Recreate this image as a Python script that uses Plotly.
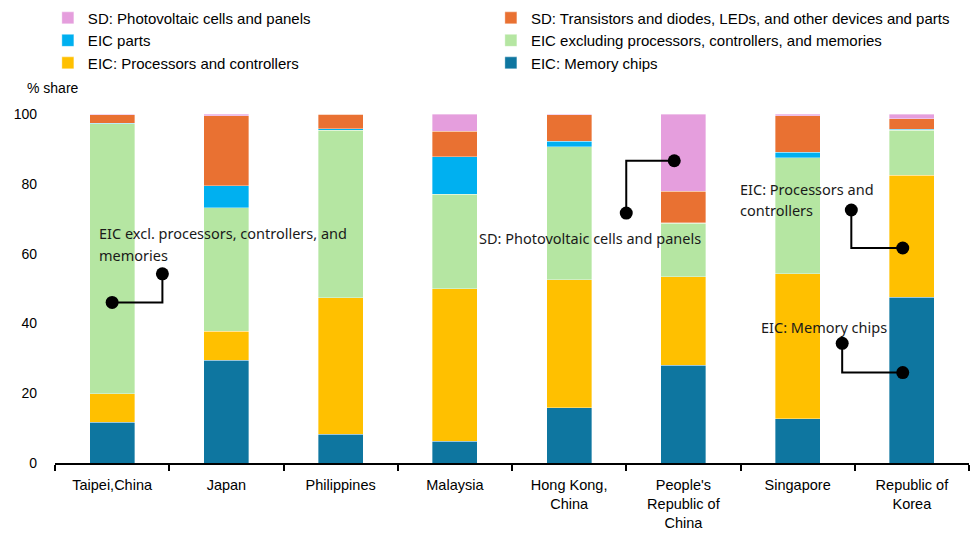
import plotly.graph_objects as go

# Economies on the x axis
economies = ["Taipei,China", "Japan", "Philippines", "Malaysia", "Hong Kong,<br>China",
             "People's<br>Republic of<br>China", "Singapore", "Republic of<br>Korea"]

# Shares (% of total) by product group, bottom of stack first
memory_chips = [11.7, 29.5, 8.2, 6.3, 15.9, 28.0, 12.7, 47.5]
processors = [8.2, 8.3, 39.2, 43.6, 36.6, 25.3, 41.5, 34.9]
eic_excluding = [77.3, 35.4, 47.9, 27.1, 38.1, 15.4, 33.3, 12.9]
eic_parts = [0.1, 6.2, 0.5, 10.8, 1.6, 0.2, 1.5, 0.4]
transistors = [2.5, 20.1, 4.2, 7.2, 7.6, 9.0, 10.5, 2.9]
photovoltaic = [0.2, 0.5, 0.0, 5.0, 0.2, 22.1, 0.5, 1.4]

y_ticks = [0, 20, 40, 60, 80, 100]

# (name, values, colour, legend column)
series = [
    ("EIC: Memory chips", memory_chips, "#0E76A0", "legend2"),
    ("EIC: Processors and controllers", processors, "#FFC000", "legend"),
    ("EIC excluding processors, controllers, and memories", eic_excluding, "#B5E6A2", "legend2"),
    ("EIC parts", eic_parts, "#00B0F0", "legend"),
    ("SD: Transistors and diodes, LEDs, and other devices and parts", transistors, "#E97132", "legend2"),
    ("SD: Photovoltaic cells and panels", photovoltaic, "#E59EDD", "legend"),
]

# Callouts: text lines (x, y, text) and elbow connector points (x list, y list)
callouts = [
    {"lines": [(-0.13, 65.9, "EIC excl. processors, controllers, and"), (-0.13, 59.6, "memories")],
     "path": ([0.0, 0.44, 0.44], [46.0, 46.0, 54.2])},
    {"lines": [(3.19, 64.6, "SD: Photovoltaic cells and panels")],
     "path": ([4.92, 4.50, 4.50], [86.6, 86.6, 71.6])},
    {"lines": [(5.48, 78.6, "EIC: Processors and"), (5.48, 72.5, "controllers")],
     "path": ([6.47, 6.47, 6.92], [72.5, 61.6, 61.6])},
    {"lines": [(5.66, 38.9, "EIC: Memory chips")],
     "path": ([6.39, 6.39, 6.92], [34.3, 25.9, 25.9])},
]

fig = go.Figure()

for name, vals, color, leg in series:
    fig.add_trace(go.Bar(
        x=economies, y=vals, name=name, legend=leg,
        marker=dict(color=color, line=dict(color="rgba(255,255,255,0.6)", width=0.6)),
    ))

annotations = []
for c in callouts:
    xs, ys = c["path"]
    fig.add_trace(go.Scatter(
        x=xs, y=ys, xaxis="x2", mode="lines",
        line=dict(color="black", width=2), showlegend=False, hoverinfo="skip",
    ))
    fig.add_trace(go.Scatter(
        x=[xs[0], xs[-1]], y=[ys[0], ys[-1]], xaxis="x2", mode="markers",
        marker=dict(color="black", size=13), showlegend=False, hoverinfo="skip",
    ))
    for lx, ly, txt in c["lines"]:
        annotations.append(dict(
            x=lx, y=ly, xref="x2", yref="y", text=txt, showarrow=False,
            xanchor="left", yanchor="middle",
            font=dict(family="Noto Sans", size=14.5, color="#1a1a1a"),
        ))

annotations.append(dict(
    x=-0.0328, y=1.0745, xref="paper", yref="paper", text="% share", showarrow=False,
    xanchor="left", yanchor="middle",
    font=dict(family="Liberation Sans", size=14, color="#000000"),
))

legend_style = dict(
    orientation="v", traceorder="reversed", yanchor="top", y=1.322, xanchor="left",
    bgcolor="rgba(0,0,0,0)", font=dict(family="Liberation Sans", size=15, color="#000000"),
    itemclick=False, itemdoubleclick=False,
)

fig.update_layout(
    width=977, height=534,
    margin=dict(l=55, r=8, t=114, b=71, autoexpand=False),
    paper_bgcolor="white", plot_bgcolor="white",
    barmode="stack", bargap=0.606,
    showlegend=True,
    legend=dict(x=-0.0078, **legend_style),
    legend2=dict(x=0.4769, **legend_style),
    xaxis=dict(
        type="category", tickson="boundaries", ticks="outside", ticklen=6,
        tickcolor="black", tickwidth=1.5, showline=True, linecolor="black", linewidth=1.5,
        showgrid=False, range=[-0.5, 7.5], ticklabelstandoff=8, automargin=False,
        tickfont=dict(family="Liberation Sans", size=14.5, color="#000000"),
    ),
    xaxis2=dict(overlaying="x", range=[-0.5, 7.5], visible=False),
    yaxis=dict(
        range=[0, 100], tickvals=y_ticks, showgrid=False, showline=False, zeroline=False,
        ticks="", ticklabelstandoff=17, automargin=False,
        tickfont=dict(family="Liberation Sans", size=14, color="#000000"),
    ),
    annotations=annotations,
    hovermode=False,
)

fig.write_html("out.html")
